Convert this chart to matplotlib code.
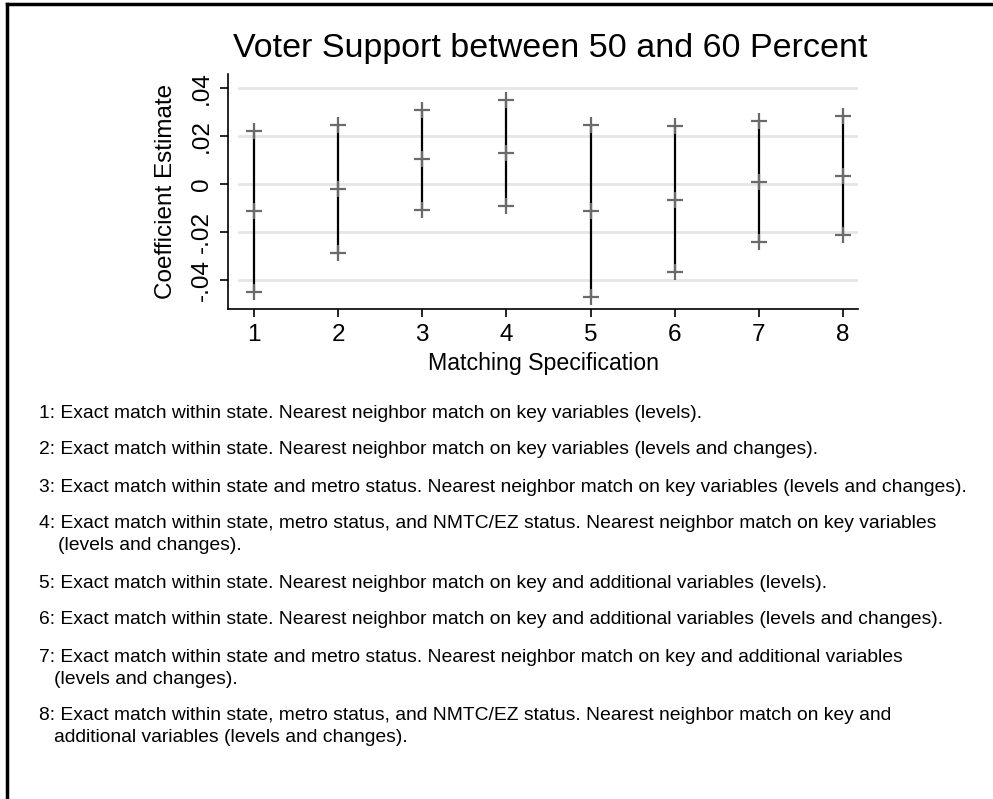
import matplotlib
matplotlib.use('Agg')
import matplotlib.pyplot as plt
from matplotlib.lines import Line2D

plt.rcParams['font.family'] = ['Liberation Sans', 'DejaVu Sans']

# ── data ────────────────────────────────────────────────────────────────
specs    = [1, 2, 3, 4, 5, 6, 7, 8]
estimate = [-0.0114, -0.0020, 0.0102, 0.0129, -0.0111, -0.0065, 0.0010, 0.0034]
ci_upper = [0.0220, 0.0247, 0.0309, 0.0348, 0.0244, 0.0240, 0.0261, 0.0284]
ci_lower = [-0.0449, -0.0288, -0.0107, -0.0090, -0.0472, -0.0368, -0.0240, -0.0212]

yticks      = [-0.04, -0.02, 0, 0.02, 0.04]
ytick_texts = ['-.04', '-.02', '0', '.02', '.04']

notes = [
    ["1: Exact match within state. Nearest neighbor match on key variables (levels)."],
    ["2: Exact match within state. Nearest neighbor match on key variables (levels and changes)."],
    ["3: Exact match within state and metro status. Nearest neighbor match on key variables (levels and changes)."],
    ["4: Exact match within state, metro status, and NMTC/EZ status. Nearest neighbor match on key variables",
     "(levels and changes)."],
    ["5: Exact match within state. Nearest neighbor match on key and additional variables (levels)."],
    ["6: Exact match within state. Nearest neighbor match on key and additional variables (levels and changes)."],
    ["7: Exact match within state and metro status. Nearest neighbor match on key and additional variables",
     "(levels and changes)."],
    ["8: Exact match within state, metro status, and NMTC/EZ status. Nearest neighbor match on key and",
     "additional variables (levels and changes)."],
]
cont_indent = [0, 0, 0, 58, 0, 0, 54, 54]

W, H = 993, 799
fig = plt.figure(figsize=(W / 100, H / 100), dpi=100)

# axes box in pixels: left 228, right 858, top 74, bottom 309
ax = fig.add_axes([228 / W, 1 - 309 / H, (858 - 228) / W, (309 - 74) / H])

for yt in yticks:
    ax.axhline(yt, xmin=0.017, xmax=1, color='#e6e6e6', linewidth=2, zorder=0)

ax.vlines(specs, ci_lower, ci_upper, color='black', linewidth=1.6, zorder=2)
for vals in (ci_upper, estimate, ci_lower):
    ax.plot(specs, vals, linestyle='none', marker='+', markersize=11,
            markeredgewidth=1.6, color='#6a6a6a', zorder=3)

ax.set_xlim(0.692, 8.178)
ax.set_ylim(-0.0521, 0.0458)
ax.set_xticks(specs)
ax.set_xticklabels([str(s) for s in specs], fontsize=17.5)
ax.set_yticks(yticks)
ax.set_yticklabels(ytick_texts, fontsize=17.5, rotation=90, va='center')
ax.tick_params(direction='out', length=6, width=1.2, color='black', pad=5)

ax.spines['top'].set_visible(False)
ax.spines['right'].set_visible(False)
ax.spines['left'].set_linewidth(1.2)
ax.spines['bottom'].set_linewidth(1.2)

ax.set_xlabel('Matching Specification', fontsize=16.7, labelpad=4)
ax.set_ylabel('Coefficient Estimate', fontsize=17.5, labelpad=10)
fig.text(550 / W, 1 - 48 / H, 'Voter Support between 50 and 60 Percent',
         fontsize=24.5, ha='center', va='center')

# notes below the chart
y = 413
for lines, indent in zip(notes, cont_indent):
    for i, line in enumerate(lines):
        x = 39 if i == 0 else indent
        fig.text(x / W, 1 - y / H, line, fontsize=13.9, ha='left', va='center')
        y += 22
    y += 15

# figure frame: top and left edge
fig.add_artist(Line2D([7 / W, 1], [1 - 4 / H, 1 - 4 / H], color='black', linewidth=2.5))
fig.add_artist(Line2D([7 / W, 7 / W], [0, 1 - 4 / H], color='black', linewidth=2.5))

fig.savefig('out.png', dpi=100)
